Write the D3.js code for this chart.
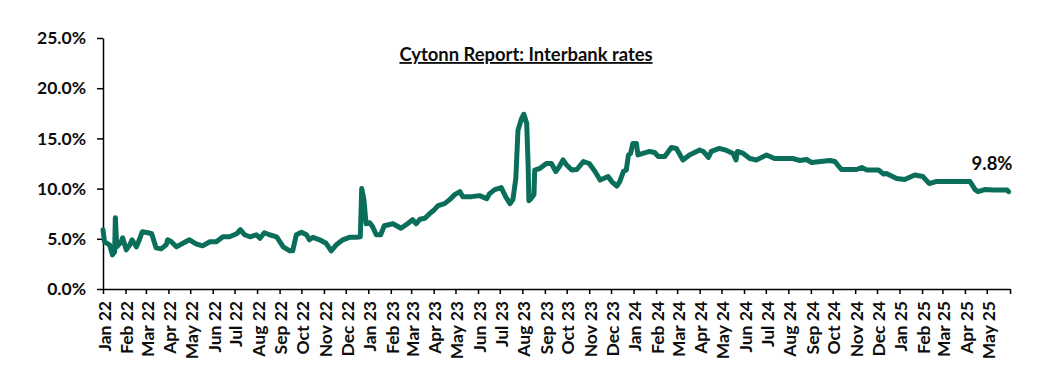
<!DOCTYPE html>
<html>
<head>
<meta charset="utf-8">
<script src="https://cdn.jsdelivr.net/npm/d3@7"></script>
<style>
  body { margin: 0; background: #fff; }
  svg text { font-family: Lato, "Open Sans", sans-serif; font-weight: bold; fill: #0d0d0d; }
</style>
</head>
<body>
<svg id="chart" width="1042" height="382"></svg>
<script>
// interbank rate readings (date, %)
var dates = [
  '2022-01-01','2022-01-03','2022-01-10','2022-01-14','2022-01-17','2022-01-18','2022-01-20','2022-01-26','2022-01-28',
  '2022-02-02','2022-02-07','2022-02-10','2022-02-16','2022-02-20','2022-02-24','2022-03-04','2022-03-09','2022-03-15',
  '2022-03-22','2022-03-29','2022-03-31','2022-04-05','2022-04-12','2022-04-21','2022-04-30','2022-05-09','2022-05-18',
  '2022-05-28','2022-06-06','2022-06-15','2022-06-24','2022-07-04','2022-07-09','2022-07-15','2022-07-22','2022-07-31',
  '2022-08-05','2022-08-11','2022-08-18','2022-08-28','2022-09-06','2022-09-15','2022-09-19','2022-09-24','2022-10-01',
  '2022-10-08','2022-10-12','2022-10-17','2022-10-26','2022-11-04','2022-11-11','2022-11-18','2022-11-27','2022-12-06',
  '2022-12-16','2022-12-21','2022-12-23','2022-12-26','2022-12-29','2023-01-03','2023-01-07','2023-01-12','2023-01-18',
  '2023-01-23','2023-02-04','2023-02-15','2023-02-24','2023-03-03','2023-03-08','2023-03-13','2023-03-20','2023-03-27',
  '2023-04-02','2023-04-07','2023-04-16','2023-04-23','2023-04-30','2023-05-07','2023-05-11','2023-05-23','2023-06-03',
  '2023-06-13','2023-06-17','2023-06-24','2023-07-03','2023-07-09','2023-07-15','2023-07-19','2023-07-23','2023-07-26',
  '2023-07-31','2023-08-03','2023-08-07','2023-08-09','2023-08-10','2023-08-13','2023-08-17','2023-08-18','2023-08-25',
  '2023-09-03','2023-09-10','2023-09-16','2023-09-21','2023-09-26','2023-10-01','2023-10-08','2023-10-15','2023-10-24',
  '2023-11-01','2023-11-09','2023-11-16','2023-11-27','2023-12-02','2023-12-09','2023-12-13','2023-12-18','2023-12-22',
  '2023-12-25','2023-12-28','2023-12-31','2024-01-05','2024-01-07','2024-01-14','2024-01-23','2024-01-30','2024-02-04',
  '2024-02-13','2024-02-22','2024-02-29','2024-03-09','2024-03-18','2024-04-01','2024-04-06','2024-04-13','2024-04-17',
  '2024-04-28','2024-05-08','2024-05-17','2024-05-21','2024-05-23','2024-05-31','2024-06-09','2024-06-18','2024-07-02',
  '2024-07-13','2024-08-07','2024-08-17','2024-08-26','2024-09-02','2024-09-27','2024-10-04','2024-10-13','2024-11-03',
  '2024-11-10','2024-11-17','2024-12-03','2024-12-10','2024-12-14','2024-12-28','2025-01-08','2025-01-22','2025-02-02',
  '2025-02-11','2025-02-20','2025-04-08','2025-04-15','2025-04-19','2025-04-28','2025-05-10','2025-05-29','2025-05-31'
];
var rates = [
  5.9, 4.7, 4.4, 3.4, 3.7, 7.1, 4.2, 4.7, 5.1,
  3.9, 4.4, 4.9, 4.2, 4.9, 5.7, 5.6, 5.5, 4.1,
  4.0, 4.4, 4.9, 4.7, 4.2, 4.55, 4.9, 4.5, 4.3,
  4.7, 4.7, 5.2, 5.2, 5.5, 5.9, 5.4, 5.2, 5.4,
  5.05, 5.6, 5.4, 5.2, 4.2, 3.8, 3.8, 5.4, 5.65,
  5.4, 4.9, 5.15, 4.9, 4.55, 3.8, 4.4, 4.9, 5.15,
  5.15, 5.2, 10.0, 8.9, 6.5, 6.6, 6.2, 5.4, 5.4,
  6.3, 6.5, 6.05, 6.5, 6.9, 6.5, 6.95, 7.05, 7.55,
  7.9, 8.3, 8.5, 8.9, 9.4, 9.7, 9.2, 9.2, 9.3,
  9.0, 9.5, 9.9, 10.1, 9.2, 8.5, 8.9, 11.0, 15.8,
  17.0, 17.4, 16.5, 12.2, 8.8, 9.0, 9.4, 11.85, 12.0,
  12.5, 12.5, 11.7, 12.2, 12.85, 12.35, 11.85, 11.9, 12.7,
  12.5, 11.7, 10.85, 11.2, 10.7, 10.25, 10.7, 11.7, 11.85,
  13.35, 13.5, 14.5, 14.5, 13.35, 13.5, 13.7, 13.6, 13.2,
  13.2, 14.1, 14.0, 12.85, 13.35, 13.85, 13.7, 13.1, 13.7,
  14.0, 13.8, 13.5, 12.85, 13.7, 13.5, 13.0, 12.85, 13.35,
  13.0, 13.0, 12.8, 12.9, 12.6, 12.8, 12.7, 11.9, 11.9,
  12.1, 11.85, 11.85, 11.45, 11.5, 11.0, 10.9, 11.35, 11.2,
  10.5, 10.7, 10.7, 9.9, 9.7, 9.9, 9.85, 9.85, 9.7
];
var yTicks = [0, 5, 10, 15, 20, 25];
var titleText = 'Cytonn Report: Interbank rates';
var lastLabel = '9.8%';

var parse = d3.timeParse('%Y-%m-%d');
var data = dates.map(function (d, i) { return { date: parse(d), value: rates[i] }; });

var svg = d3.select('#chart');
var margin = { left: 103, right: 32, top: 38, bottom: 93 };
var width = 1042 - margin.left - margin.right;
var height = 382 - margin.top - margin.bottom;

var g = svg.append('g').attr('transform', 'translate(' + margin.left + ',' + margin.top + ')');

var x = d3.scaleTime()
  .domain([parse('2022-01-01'), parse('2025-06-02')])
  .range([0, width]);
var y = d3.scaleLinear().domain([0, 25]).range([height, 0]);

// y axis
var yAxis = g.append('g')
  .call(d3.axisLeft(y).tickValues(yTicks).tickSize(6).tickSizeOuter(0).tickPadding(11)
    .tickFormat(function (d) { return d.toFixed(1) + '%'; }));
yAxis.selectAll('text').style('font-size', '17.5px');
yAxis.selectAll('line, path').attr('stroke', '#000').attr('stroke-width', 1.5);

// x axis, monthly ticks
var months = d3.timeMonth.range(parse('2022-01-01'), parse('2025-06-01'));
var xAxis = g.append('g')
  .attr('transform', 'translate(0,' + height + ')')
  .call(d3.axisBottom(x).tickValues(months.concat([x.domain()[1]])).tickSize(5).tickSizeOuter(0)
    .tickFormat(function (d, i) { return i < months.length ? d3.timeFormat('%b %y')(d) : ''; }));
xAxis.selectAll('line, path').attr('stroke', '#000').attr('stroke-width', 1.5);
xAxis.selectAll('text')
  .style('font-size', '17.5px')
  .attr('text-anchor', 'end')
  .attr('transform', 'rotate(-90)')
  .attr('x', -12)
  .attr('y', 1)
  .attr('dy', '0.36em');

// the series
var line = d3.line()
  .x(function (d) { return x(d.date); })
  .y(function (d) { return y(d.value); });

g.append('path')
  .datum(data)
  .attr('d', line)
  .attr('fill', 'none')
  .attr('stroke', '#0b6e5a')
  .attr('stroke-width', 5)
  .attr('stroke-linejoin', 'round')
  .attr('stroke-linecap', 'round');

// title
svg.append('text')
  .attr('x', 526)
  .attr('y', 61)
  .attr('text-anchor', 'middle')
  .attr('text-decoration', 'underline')
  .style('font-size', '18.4px')
  .text(titleText);

// last value label
var last = data[data.length - 1];
g.append('text')
  .attr('x', x(last.date) + 4)
  .attr('y', y(last.value) - 22)
  .attr('text-anchor', 'end')
  .style('font-size', '18.5px')
  .text(lastLabel);
</script>
</body>
</html>
